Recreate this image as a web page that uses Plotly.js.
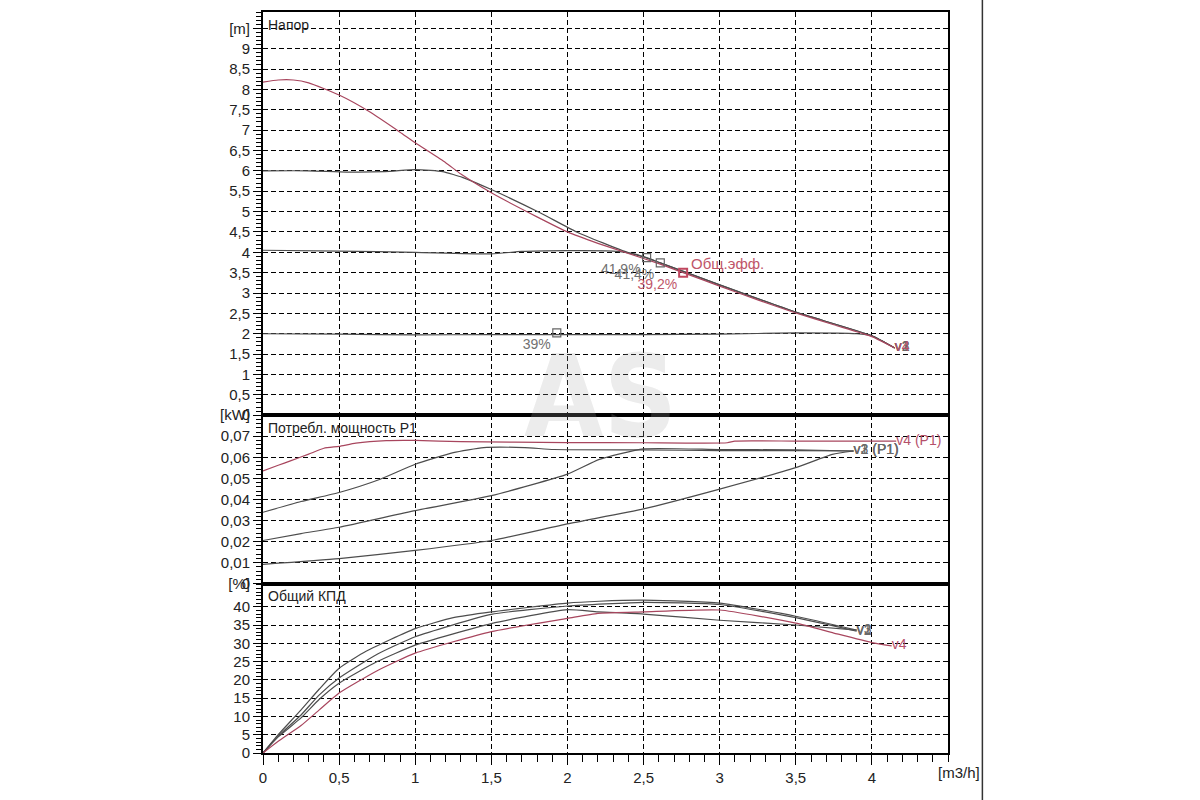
<!DOCTYPE html>
<html>
<head>
<meta charset="utf-8">
<script src="https://cdn.plot.ly/plotly-3.0.1.min.js"></script>
<style>
  body { margin: 0; background: #fff; }
  #graph { width: 1200px; height: 800px; }
</style>
</head>
<body>
<div id="graph"></div>
<script>
// DATA
// head [m]
const qHeadV4 = [0, 0.1, 0.2, 0.3, 0.5, 0.7, 0.9, 1.0, 1.2, 1.3, 1.5, 1.8, 2.0, 2.2, 2.4, 2.6, 2.76, 3.0, 3.25, 3.5, 3.75, 4.0, 4.15];
const headV4 = [8.18, 8.23, 8.23, 8.16, 7.86, 7.45, 6.95, 6.69, 6.2, 5.92, 5.46, 4.87, 4.5, 4.22, 3.97, 3.72, 3.5, 3.17, 2.83, 2.51, 2.22, 1.93, 1.65];
const qHeadV3 = [0, 0.3, 0.55, 0.8, 1.0, 1.1, 1.18, 1.25, 1.31, 1.5, 1.82, 2.06, 2.4, 2.52, 2.61, 3.0, 3.5, 4.0, 4.15];
const headV3 = [6.0, 6.0, 5.97, 5.98, 6.03, 6.01, 5.98, 5.91, 5.84, 5.54, 4.97, 4.5, 3.99, 3.87, 3.74, 3.2, 2.53, 1.95, 1.65];
const qHeadV2 = [0, 0.5, 1.0, 1.5, 1.7, 2.0, 2.3, 2.45, 2.61, 3.0, 3.5, 4.0, 4.15];
const headV2 = [4.05, 4.03, 4.0, 3.96, 4.02, 4.04, 4.03, 3.95, 3.74, 3.2, 2.53, 1.95, 1.65];
const qHeadV1 = [0, 0.5, 1.0, 1.5, 2.0, 2.5, 3.0, 3.5, 3.9, 4.0, 4.15];
const headV1 = [2.0, 1.99, 1.97, 1.98, 1.98, 1.98, 1.99, 2.02, 2.0, 1.95, 1.65];

// best efficiency points on the head curves
const bepQ = [1.93, 2.52, 2.61];
const bepH = [2.02, 3.87, 3.74];
const bepText = ['39%', '41,9%', '41,4%'];
const bepQV4 = [2.76];
const bepHV4 = [3.5];
const bepTextV4 = ['39,2%'];

// power P1 [kW]
const qPowV4 = [0, 0.1, 0.18, 0.3, 0.4, 0.5, 0.61, 0.81, 1.0, 1.3, 2.0, 2.5, 3.05, 3.1, 3.5, 4.0, 4.16];
const powV4 = [0.0535, 0.0562, 0.0583, 0.0615, 0.0643, 0.0652, 0.0667, 0.0679, 0.068, 0.0674, 0.0670, 0.0669, 0.0669, 0.0677, 0.0677, 0.0677, 0.0677];
const qPowV3 = [0, 0.25, 0.5, 0.77, 1.0, 1.25, 1.45, 1.72, 1.91, 2.5, 3.0, 3.5, 3.88];
const powV3 = [0.0339, 0.039, 0.0433, 0.0496, 0.0567, 0.0622, 0.0646, 0.0646, 0.0637, 0.0635, 0.0632, 0.0632, 0.063];
const qPowV2 = [0, 0.25, 0.5, 1.0, 1.5, 2.0, 2.21, 2.5, 3.0, 3.5, 3.88];
const powV2 = [0.0205, 0.0238, 0.0268, 0.0347, 0.0418, 0.052, 0.059, 0.064, 0.0637, 0.0635, 0.063];
const qPowV1 = [0, 0.5, 1.0, 1.5, 2.0, 2.5, 3.0, 3.5, 3.74, 3.88];
const powV1 = [0.0092, 0.0119, 0.0158, 0.0205, 0.0284, 0.0355, 0.0449, 0.0551, 0.0614, 0.063];

// total efficiency [%]
const qEffV4 = [0, 0.1, 0.25, 0.37, 0.5, 0.75, 1.0, 1.5, 2.0, 2.2, 2.5, 3.0, 3.5, 3.75, 4.0, 4.13];
const effV4 = [0, 3.2, 7.5, 11.8, 16.4, 22.5, 27.3, 33.2, 36.8, 38.2, 38.6, 39.1, 35.5, 32.8, 30.2, 29.3];
const qEffV3 = [0, 0.1, 0.25, 0.37, 0.5, 0.68, 1.0, 1.25, 1.5, 2.0, 2.21, 2.5, 3.0, 3.5, 3.9];
const effV3 = [0, 5, 11.8, 17.5, 23.2, 27.9, 34, 37, 38.6, 41, 41.5, 41.8, 41, 37.4, 33.6];
const qEffV2 = [0, 0.1, 0.25, 0.37, 0.5, 0.75, 1.0, 1.5, 2.0, 2.5, 3.0, 3.5, 3.9];
const effV2 = [0, 4.6, 10.4, 15.9, 20.5, 27, 31.8, 37.9, 40.2, 41.2, 40.6, 37, 33.3];
const qEffV1 = [0, 0.1, 0.25, 0.37, 0.5, 0.75, 1.0, 1.5, 2.0, 2.2, 2.5, 3.0, 3.5, 3.9];
const effV1 = [0, 4.4, 9.6, 14.7, 19.1, 25, 29.5, 35.4, 39.2, 38.6, 38, 36.3, 35, 33.6];

// ticks
const flowTicks = [0, 0.5, 1, 1.5, 2, 2.5, 3, 3.5, 4];
const flowTickText = ['0', '0,5', '1', '1,5', '2', '2,5', '3', '3,5', '4'];
const headTicks = [0, 0.5, 1, 1.5, 2, 2.5, 3, 3.5, 4, 4.5, 5, 5.5, 6, 6.5, 7, 7.5, 8, 8.5, 9, 9.5];
const headTickText = ['0', '0,5', '1', '1,5', '2', '2,5', '3', '3,5', '4', '4,5', '5', '5,5', '6', '6,5', '7', '7,5', '8', '8,5', '9', '[m]'];
const powTicks = [0, 0.01, 0.02, 0.03, 0.04, 0.05, 0.06, 0.07, 0.08];
const powTickText = ['0', '0,01', '0,02', '0,03', '0,04', '0,05', '0,06', '0,07', '[kW]'];
const effTicks = [0, 5, 10, 15, 20, 25, 30, 35, 40, 46.3];
const effTickText = ['0', '5', '10', '15', '20', '25', '30', '35', '40', '[%]'];

//STYLE
const DARK = '#4d4d4d';
const RED = '#a8465e';
const FONT = 'Liberation Sans, Arial, sans-serif';

function curve(x, y, color, xa, ya, label) {
	return {
		x: x, y: y,
		xaxis: xa, yaxis: ya,
		mode: 'lines+text',
		type: 'scatter',
		line: {color: color, width: 1.2, shape: 'spline', smoothing: 0.5},
		text: y.map((v, i) => i === y.length - 1 ? label : ''),
		textposition: 'middle right',
		textfont: {family: FONT, size: 14, color: color === RED ? '#b5506a' : '#6a6a6a'},
		hoverinfo: 'x+y',
		cliponaxis: false
	};
}

const traces = [
	curve(qHeadV3, headV3, DARK, 'x', 'y', 'v3'),
	curve(qHeadV2, headV2, DARK, 'x', 'y', 'v2'),
	curve(qHeadV1, headV1, DARK, 'x', 'y', 'v1'),
	curve(qHeadV4, headV4, RED, 'x', 'y', 'v4'),
	{
		x: bepQ, y: bepH, xaxis: 'x', yaxis: 'y',
		mode: 'markers+text', type: 'scatter',
		marker: {symbol: 'square-open', size: 8, color: '#666', line: {width: 1.2}},
		text: bepText, textposition: 'bottom left',
		textfont: {family: FONT, size: 14, color: '#707070'}
	},
	{
		x: bepQV4, y: bepHV4, xaxis: 'x', yaxis: 'y',
		mode: 'markers+text', type: 'scatter',
		marker: {symbol: 'square-open', size: 8, color: '#c0475f', line: {width: 2}},
		text: bepTextV4, textposition: 'bottom left',
		textfont: {family: FONT, size: 14, color: '#c0566a'}
	},
	curve(qPowV3, powV3, DARK, 'x2', 'y2', 'v3 (P1)'),
	curve(qPowV2, powV2, DARK, 'x2', 'y2', 'v2 (P1)'),
	curve(qPowV1, powV1, DARK, 'x2', 'y2', 'v1 (P1)'),
	curve(qPowV4, powV4, RED, 'x2', 'y2', 'v4 (P1)'),
	curve(qEffV3, effV3, DARK, 'x3', 'y3', 'v3'),
	curve(qEffV2, effV2, DARK, 'x3', 'y3', 'v2'),
	curve(qEffV1, effV1, DARK, 'x3', 'y3', 'v1'),
	curve(qEffV4, effV4, RED, 'x3', 'y3', 'v4')
];

function xAxis(anchor, bottom) {
	const ax = {
		anchor: anchor, domain: [0, 1], range: [0, 4.5],
		tickmode: 'array', tickvals: flowTicks, ticktext: flowTickText,
		showgrid: true, gridcolor: '#000', gridwidth: 1, griddash: '5px,3px',
		showline: true, mirror: true, linecolor: '#000', linewidth: 2,
		zeroline: false, fixedrange: true
	};
	if (bottom) {
		ax.ticks = 'outside';
		ax.ticklen = 10;
		ax.tickcolor = '#000';
		ax.minor = {tickmode: 'linear', tick0: 0, dtick: 0.1, ticks: 'outside', ticklen: 7, tickcolor: '#000', showgrid: false};
		ax.tickfont = {family: FONT, size: 15, color: '#222'};
	} else {
		ax.showticklabels = false;
		ax.ticks = '';
		ax.matches = 'x3';
	}
	return ax;
}

function yAxis(anchor, domain, range, tickvals, ticktext, minorStep) {
	return {
		anchor: anchor, domain: domain, range: range,
		tickmode: 'array', tickvals: tickvals, ticktext: ticktext,
		ticks: 'outside', ticklen: 8, tickcolor: '#000',
		minor: {tickmode: 'linear', tick0: 0, dtick: minorStep, ticks: 'outside', ticklen: 5, tickcolor: '#000', showgrid: false},
		showgrid: true, gridcolor: '#000', gridwidth: 1, griddash: '5px,3px',
		showline: true, mirror: true, linecolor: '#000', linewidth: 2,
		zeroline: false, fixedrange: true,
		tickfont: {family: FONT, size: 15, color: '#222'}
	};
}

const layout = {
	width: 1200, height: 800,
	margin: {l: 263, r: 252, t: 12, b: 47},
	paper_bgcolor: '#fff', plot_bgcolor: '#fff',
	separators: ', ',
	showlegend: false,
	font: {family: FONT, size: 15, color: '#222'},
	xaxis: xAxis('y', false),
	xaxis2: xAxis('y2', false),
	xaxis3: xAxis('y3', true),
	yaxis: yAxis('x', [0.4559, 1], [0, 9.9], headTicks, headTickText, 0.1),
	yaxis2: yAxis('x2', [0.2285, 0.4559], [0, 0.08], powTicks, powTickText, 0.002),
	yaxis3: yAxis('x3', [0, 0.2285], [0, 46.3], effTicks, effTickText, 1),
	annotations: [
		{text: '<b>AS</b>', xref: 'paper', yref: 'paper', x: 0.493, y: 0.481, xanchor: 'center', yanchor: 'middle', showarrow: false, font: {family: 'DejaVu Sans Condensed, DejaVu Sans, sans-serif', size: 114, color: 'rgba(170,170,170,0.22)'}},
		{text: 'Напор', xref: 'paper', yref: 'paper', x: 0.004, y: 0.996, xanchor: 'left', yanchor: 'top', showarrow: false, font: {family: FONT, size: 14, color: '#222'}},
		{text: 'Потребл. мощность P1', xref: 'paper', yref: 'paper', x: 0.004, y: 0.4525, xanchor: 'left', yanchor: 'top', showarrow: false, font: {family: FONT, size: 14, color: '#222'}},
		{text: 'Общий КПД', xref: 'paper', yref: 'paper', x: 0.004, y: 0.2255, xanchor: 'left', yanchor: 'top', showarrow: false, font: {family: FONT, size: 14, color: '#222'}},
		{text: 'Общ.эфф.', xref: 'x', yref: 'y', x: 2.8, y: 3.72, xanchor: 'left', yanchor: 'middle', showarrow: false, font: {family: FONT, size: 15, color: '#c0566a'}},
		{text: '[m3/h]', xref: 'paper', yref: 'paper', x: 1.0156, y: -0.0266, xanchor: 'center', yanchor: 'middle', showarrow: false, font: {family: FONT, size: 15, color: '#222'}}
	],
	shapes: [
		{type: 'line', xref: 'paper', yref: 'paper', x0: 1.0502, x1: 1.0502, y0: -0.07, y1: 1.02, line: {color: '#333', width: 1.5}}
	]
};

Plotly.newPlot('graph', traces, layout, {staticPlot: true});
</script>
</body>
</html>
